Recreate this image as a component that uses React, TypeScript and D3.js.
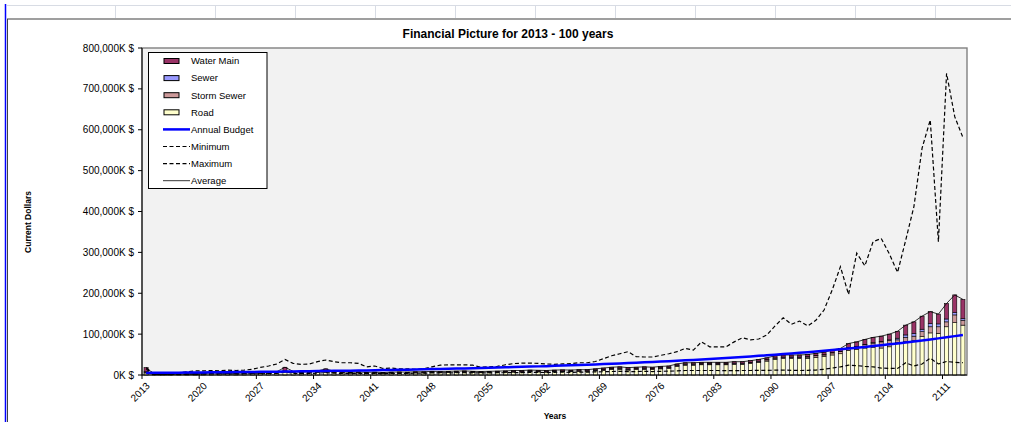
import React from "react";
import * as d3 from "d3";

// Values in millions of dollars (thousands of "K $"), one entry per year 2013..2113
const years: number[] = d3.range(2013, 2114);

const road: number[] = [
  5, 1, 0.8, 0.8, 1.2, 1.8, 2, 2.5, 3, 2.8,
  3, 2.8, 3, 3, 3.5, 4, 5, 7, 5.5, 4.5,
  5, 6, 6, 5.5, 5, 4.5, 5, 4, 4.5, 4,
  4.5, 5, 4.5, 5, 5, 6, 5.5, 6, 6, 6.5,
  6, 5.5, 6, 6, 6.5, 7, 7, 8, 7.5, 7,
  8, 8, 8, 8.5, 8.5, 10, 11, 13, 14, 12,
  13, 14, 13, 15, 16, 21, 24, 24, 25, 25,
  25, 25, 26, 26, 28, 31, 34, 38, 40, 40,
  40, 41, 43, 45, 49, 52, 60, 62, 66, 68,
  66, 69, 79, 82, 84, 94, 103, 102, 118, 128,
  122,
];

const stormSewer: number[] = [
  2, 0.3, 0.2, 0.2, 0.2, 0.3, 0.4, 0.4, 0.5, 0.5,
  0.5, 0.5, 0.5, 0.5, 0.6, 0.7, 0.8, 2, 0.9, 0.7,
  0.8, 1, 1.5, 0.9, 0.8, 0.7, 0.7, 0.7, 0.7, 0.6,
  0.7, 0.7, 0.7, 0.8, 0.8, 0.9, 0.8, 0.9, 1, 1,
  0.9, 0.8, 0.9, 1, 1, 1.1, 1.1, 1.2, 1.1, 1.1,
  1.2, 1.2, 1.2, 1.3, 1.3, 1.5, 1.7, 1.9, 2, 1.8,
  1.9, 2, 2, 2, 2, 2, 2, 2, 2, 2,
  2, 2, 2, 2, 2, 2, 3, 3, 3, 3,
  3, 3, 4, 4, 5, 5, 6, 7, 8, 10,
  15, 16, 7, 10, 11, 12, 15, 16, 12, 19,
  12,
];

const sewer: number[] = [
  1, 0.1, 0.1, 0.1, 0.1, 0.2, 0.2, 0.2, 0.3, 0.2,
  0.3, 0.2, 0.3, 0.3, 0.3, 0.3, 0.4, 1, 0.5, 0.4,
  0.4, 0.5, 0.8, 0.5, 0.4, 0.4, 0.4, 0.3, 0.4, 0.3,
  0.4, 0.4, 0.4, 0.4, 0.4, 0.5, 0.4, 0.5, 0.5, 0.5,
  0.5, 0.4, 0.5, 0.5, 0.5, 0.6, 0.6, 0.6, 0.6, 0.6,
  0.6, 0.6, 0.6, 0.7, 0.7, 0.8, 0.8, 1, 1, 0.9,
  1, 1, 1, 1, 1, 1, 1, 1, 1, 1,
  1, 1, 1, 1, 1, 1, 1, 1, 1, 1,
  1, 1, 1, 1, 1, 1, 1, 1, 1, 1,
  1, 1, 4, 6, 7, 6, 8, 7, 7, 6,
  4,
];

const waterMain: number[] = [
  10, 0.6, 0.4, 0.4, 0.5, 0.7, 0.9, 0.9, 1.2, 1,
  1.2, 1, 1.2, 1.2, 1.6, 1.5, 1.8, 9, 2.1, 1.4,
  1.8, 2.5, 6.7, 2.1, 1.8, 1.4, 1.4, 1.5, 1.4, 1.1,
  1.4, 1.4, 1.4, 1.8, 1.8, 1.6, 1.8, 1.6, 2, 2,
  1.6, 1.8, 1.6, 2, 2, 2.3, 2.3, 2.2, 2.3, 2.3,
  2.2, 2.7, 2.2, 2.5, 2.5, 2.7, 3.5, 3.1, 3, 3.3,
  3.1, 3, 3, 3, 3, 3, 3, 3, 3, 3,
  3, 3, 3.5, 3.5, 4, 4, 4, 5, 5, 5,
  5, 5, 5, 6, 6, 7, 10, 11, 12, 13,
  13, 14, 17, 24, 28, 32, 29, 24, 38, 43,
  47,
];

const annualBudget: number[] = [
  5.1, 5.3, 5.4, 5.6, 5.7, 5.9, 6.1, 6.3, 6.5, 6.7,
  6.9, 7.1, 7.3, 7.5, 7.7, 7.9, 8.2, 8.4, 8.7, 8.9,
  9.2, 9.5, 9.8, 10.1, 10.4, 10.7, 11.0, 11.3, 11.7, 12.0,
  12.4, 12.8, 13.1, 13.5, 13.9, 14.4, 14.8, 15.2, 15.7, 16.2,
  16.7, 17.2, 17.7, 18.2, 18.7, 19.3, 19.9, 20.5, 21.1, 21.7,
  22.4, 23.0, 23.7, 24.4, 25.2, 25.9, 26.7, 27.5, 28.3, 29.2,
  30.0, 30.9, 31.9, 32.8, 33.8, 34.8, 35.9, 36.9, 38.0, 39.2,
  40.4, 41.6, 42.8, 44.1, 45.4, 46.8, 48.2, 49.6, 51.1, 52.7,
  54.2, 55.9, 57.5, 59.3, 61.0, 62.9, 64.8, 66.7, 68.7, 70.8,
  72.9, 75.1, 77.3, 79.6, 82.0, 84.5, 87.0, 89.6, 92.3, 95.1,
  97.9,
];

const minimum: number[] = [
  15, 1, 1, 1, 1.5, 2, 2, 2.5, 3, 2.5,
  3, 2.5, 3, 3, 3, 3.5, 4, 8, 4, 3.5,
  4, 4.5, 6, 4.5, 4, 4, 4, 3.5, 4, 3.5,
  4, 4, 4, 4.5, 4.5, 5, 5, 5, 5.5, 5.5,
  5, 5, 5, 5.5, 5.5, 6, 6, 6.5, 6.5, 6,
  6.5, 7, 6.5, 7, 7, 7.5, 8, 8.5, 9, 8.5,
  8.5, 9, 8.5, 9, 9.5, 10, 11, 11, 11, 11,
  11, 10.5, 10.5, 11, 11, 11.5, 11, 12, 12, 11.5,
  11, 11.5, 12, 14, 17, 20, 24, 23, 21, 20,
  17, 16, 16, 30, 22, 27, 41, 27, 33, 31,
  30,
];

const maximum: number[] = [
  18, 2, 2, 3, 5, 8, 10, 10, 11, 10,
  12, 11, 12, 14, 18.7, 22, 27, 38, 28.5, 26,
  27, 32.6, 36.7, 32.6, 30, 30, 28.5, 20, 22, 16,
  17, 15, 15, 14, 15, 20, 24, 25, 25, 25,
  24, 19, 20, 21, 25, 28, 29, 29, 28.5, 27,
  26, 27, 28, 30, 30, 33, 40, 47, 52, 57,
  45, 44, 44, 48, 52, 57, 65, 61, 81, 69,
  69, 69, 81, 91, 86, 88, 98, 120, 140, 124,
  132, 120, 134, 159, 208, 265, 197, 298, 267, 326,
  334, 296, 251, 330, 412, 555, 624, 326, 738, 632,
  581,
];

const average: number[] = [
  18, 2, 1.5, 1.5, 2, 3, 3.5, 4, 5, 4.5,
  5, 4.5, 5, 5, 6, 6.5, 8, 19, 9, 7,
  8, 10, 15, 9, 8, 7, 7.5, 6.5, 7, 6,
  7, 7.5, 7, 8, 8, 9, 8.5, 9, 9.5, 10,
  9, 8.5, 9, 9.5, 10, 11, 11, 12, 11.5, 11,
  12, 12.5, 12, 13, 13, 15, 17, 19, 20, 18,
  19, 20, 19, 21, 22, 27, 30, 30, 31, 31,
  31, 31, 32.5, 32.5, 35, 38, 42, 47, 49, 49,
  49, 50, 53, 56, 61, 65, 77, 81, 87, 92,
  95, 100, 107, 122, 130, 144, 155, 149, 175, 196,
  185,
];

const yTicks: number[] = [0, 100, 200, 300, 400, 500, 600, 700, 800];
const xTickYears: number[] = [2013, 2020, 2027, 2034, 2041, 2048, 2055, 2062, 2069, 2076, 2083, 2090, 2097, 2104, 2111];

const seriesKeys = ["road", "stormSewer", "sewer", "waterMain"] as const;
const seriesColors: Record<string, string> = {
  road: "#FFFFCC",
  stormSewer: "#CC9999",
  sewer: "#9999FF",
  waterMain: "#993366",
};

const FONT = "'Liberation Sans', Arial, Helvetica, sans-serif";
const DASH = "4,2.5";

export default function App() {
  const W = 1011;
  const H = 422;
  const left = 142;
  const right = 967;
  const top = 48;
  const bottom = 375;

  const x = d3
    .scaleBand<number>()
    .domain(years)
    .range([left, right])
    .paddingInner(0.5)
    .paddingOuter(0.25);
  const step = x.step();
  const cx = (yr: number) => (x(yr) as number) + x.bandwidth() / 2;

  const y = d3.scaleLinear().domain([0, 800]).range([bottom, top]);

  const rows = years.map((yr, i) => ({
    year: yr,
    road: road[i],
    stormSewer: stormSewer[i],
    sewer: sewer[i],
    waterMain: waterMain[i],
  }));
  const stacked = d3.stack<any>().keys(seriesKeys as unknown as string[])(rows);

  const lineOf = (vals: number[]) =>
    d3
      .line<number>()
      .x((_, i) => cx(years[i]))
      .y((v) => y(v))(vals) as string;

  const fmtTick = (v: number) => `${d3.format(",")(v * 1000)}K $`;

  // spreadsheet column borders above the chart object
  const colLines = [115, 215, 295, 375, 455, 535, 615, 695, 775, 855, 935];

  const legendItems = [
    { label: "Water Main", kind: "rect", color: seriesColors.waterMain },
    { label: "Sewer", kind: "rect", color: seriesColors.sewer },
    { label: "Storm Sewer", kind: "rect", color: seriesColors.stormSewer },
    { label: "Road", kind: "rect", color: seriesColors.road },
    { label: "Annual Budget", kind: "budget", color: "#0000FF" },
    { label: "Minimum", kind: "dash", color: "#000" },
    { label: "Maximum", kind: "dash", color: "#000" },
    { label: "Average", kind: "solid", color: "#000" },
  ];

  return (
    <svg
      width={W}
      height={H}
      style={{ position: "absolute", left: 0, top: 0, background: "#fff" }}
      fontFamily={FONT}
    >
      <rect x={0} y={0} width={W} height={H} fill="#fff" />
      {/* sheet grid */}
      <line x1={7} x2={W} y1={5.5} y2={5.5} stroke="#D8DCE4" />
      {colLines.map((cxl) => (
        <line key={cxl} x1={cxl + 0.5} x2={cxl + 0.5} y1={5} y2={18} stroke="#D8DCE4" />
      ))}
      {/* chart object frame */}
      <line x1={7} x2={W} y1={19} y2={19} stroke="#404040" strokeWidth={1.2} />
      <line x1={5.5} x2={5.5} y1={4} y2={H} stroke="#0000FF" strokeWidth={1.5} />
      <line x1={7.5} x2={7.5} y1={19} y2={H} stroke="#404040" strokeWidth={1} />

      {/* title */}
      <text x={508} y={38} textAnchor="middle" fontSize={12} fontWeight="bold">
        Financial Picture for 2013 - 100 years
      </text>

      {/* plot area */}
      <rect
        x={left}
        y={top}
        width={right - left}
        height={bottom - top}
        fill="#F2F2F2"
        stroke="#808080"
        strokeWidth={1.4}
      />

      {/* stacked bars */}
      {stacked.map((layer) => (
        <g key={layer.key} fill={seriesColors[layer.key]}>
          {layer.map((d, i) => (
            <rect
              key={i}
              x={x(years[i])}
              y={y(d[1])}
              width={x.bandwidth()}
              height={Math.max(0, y(d[0]) - y(d[1]))}
              stroke="#000"
              strokeWidth={0.6}
            />
          ))}
        </g>
      ))}

      {/* lines */}
      <path d={lineOf(average)} fill="none" stroke="#000" strokeWidth={0.8} />
      <path d={lineOf(minimum)} fill="none" stroke="#000" strokeWidth={1.2} strokeDasharray={DASH} />
      <path d={lineOf(maximum)} fill="none" stroke="#000" strokeWidth={1.2} strokeDasharray={DASH} />
      <path d={lineOf(annualBudget)} fill="none" stroke="#0000FF" strokeWidth={2.5} />

      {/* y axis */}
      <line x1={left} x2={left} y1={top} y2={bottom} stroke="#000" />
      {yTicks.map((t) => (
        <g key={t}>
          <line x1={left - 4} x2={left} y1={y(t)} y2={y(t)} stroke="#000" />
          <text x={left - 8} y={y(t)} dy="0.35em" textAnchor="end" fontSize={10}>
            {fmtTick(t)}
          </text>
        </g>
      ))}
      <text
        transform={`translate(31, 222) rotate(-90)`}
        textAnchor="middle"
        fontSize={8.5}
        fontWeight="bold"
      >
        Current Dollars
      </text>

      {/* x axis */}
      <line x1={left} x2={right} y1={bottom} y2={bottom} stroke="#000" />
      {xTickYears.map((yr) => {
        const bx = (x(yr) as number) - (step - x.bandwidth()) / 2;
        const c = cx(yr);
        return (
          <g key={yr}>
            <line x1={bx} x2={bx} y1={bottom} y2={bottom + 4} stroke="#000" />
            <text
              transform={`translate(${c + 2}, ${bottom + 9}) rotate(-45)`}
              textAnchor="end"
              dy="0.35em"
              fontSize={10}
            >
              {yr}
            </text>
          </g>
        );
      })}
      <text x={555} y={419} textAnchor="middle" fontSize={8.5} fontWeight="bold">
        Years
      </text>

      {/* legend */}
      <rect x={148.5} y={52.5} width={118.5} height={136} fill="#fff" stroke="#000" />
      {legendItems.map((it, k) => {
        const ly = 61 + k * 17.1;
        return (
          <g key={it.label}>
            {it.kind === "rect" && (
              <rect x={164} y={ly - 2.5} width={15} height={5} fill={it.color} stroke="#000" strokeWidth={1} />
            )}
            {it.kind === "budget" && (
              <line x1={163} x2={190} y1={ly} y2={ly} stroke={it.color} strokeWidth={2.5} />
            )}
            {it.kind === "dash" && (
              <line x1={163} x2={190} y1={ly} y2={ly} stroke="#000" strokeWidth={1.2} strokeDasharray={DASH} />
            )}
            {it.kind === "solid" && (
              <line x1={163} x2={190} y1={ly} y2={ly} stroke="#000" strokeWidth={0.8} />
            )}
            <text x={191} y={ly} dy="0.35em" fontSize={9.5}>
              {it.label}
            </text>
          </g>
        );
      })}
    </svg>
  );
}
